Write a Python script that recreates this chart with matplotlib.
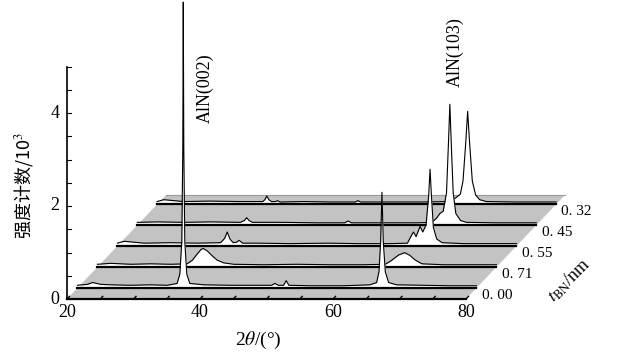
import numpy as np
import matplotlib.pyplot as plt

plt.rcParams['mathtext.fontset'] = 'stix'

# film thickness labels, front to back
thickness = ['0. 00', '0. 71', '0. 55', '0. 45', '0. 32']

# 2theta (deg) / intensity (10^3 counts)
t000_x = [20.0, 21.5, 22.3, 23.5, 25.0, 28.0, 31.0, 33.5, 35.0, 35.4, 35.7, 35.85, 35.92, 36.0, 36.15, 36.45, 36.9, 39.0, 43.0, 47.0,
          49.2, 49.7, 50.2, 51.0, 51.4, 51.8, 55.0, 60.0, 64.0, 65.0, 65.35, 65.6, 65.8, 66.0, 66.3, 66.8, 68.0, 72.0, 76.0, 80.0]
t000_y = [0.06, 0.08, 0.12, 0.08, 0.07, 0.06, 0.07, 0.06, 0.1, 0.3, 1.0, 3.0, 6.15, 3.0, 1.0, 0.3, 0.1, 0.07, 0.06, 0.06,
          0.06, 0.1, 0.06, 0.06, 0.16, 0.06, 0.05, 0.05, 0.07, 0.12, 0.35, 1.0, 2.06, 1.0, 0.35, 0.12, 0.07, 0.06, 0.05, 0.05]

t071_x = [20.0, 22.0, 25.0, 28.0, 31.0, 33.5, 34.3, 35.0, 35.6, 35.9, 36.5, 37.2, 38.0, 39.0, 40.5,
          45.0, 50.0, 55.0, 60.0, 63.3, 64.2, 65.3, 66.2, 67.0, 67.8, 68.8, 72.0, 76.0, 80.0]
t071_y = [0.06, 0.08, 0.06, 0.07, 0.06, 0.07, 0.15, 0.28, 0.38, 0.40, 0.35, 0.25, 0.15, 0.09, 0.06,
          0.05, 0.06, 0.05, 0.05, 0.06, 0.14, 0.26, 0.31, 0.25, 0.15, 0.07, 0.05, 0.05, 0.05]

t055_x = [20.0, 21.0, 24.0, 28.0, 32.0, 35.5, 36.1, 36.5, 36.9, 37.4, 37.9, 38.3, 38.8, 41.0, 46.0, 51.7, 56.0,
          61.0, 63.6, 64.1, 64.5, 64.9, 65.5, 65.9, 66.4, 66.8, 67.0, 67.2, 67.5, 68.0, 68.8, 72.0, 76.0, 80.0]
t055_y = [0.06, 0.1, 0.06, 0.07, 0.06, 0.07, 0.16, 0.30, 0.15, 0.07, 0.08, 0.12, 0.06, 0.06, 0.05, 0.06, 0.05,
          0.05, 0.06, 0.2, 0.30, 0.2, 0.42, 0.3, 0.45, 1.1, 1.65, 1.1, 0.4, 0.15, 0.07, 0.05, 0.05, 0.05]

t045_x = [20.0, 23.0, 27.0, 31.0, 35.5, 36.1, 36.45, 36.8, 37.3, 42.0, 47.0, 51.2, 51.7, 52.2, 57.0,
          62.0, 64.3, 65.0, 65.5, 66.0, 66.5, 66.8, 67.0, 67.2, 67.5, 67.9, 68.6, 69.5, 74.0, 80.0]
t045_y = [0.06, 0.07, 0.06, 0.07, 0.06, 0.1, 0.16, 0.1, 0.06, 0.06, 0.05, 0.05, 0.09, 0.05, 0.05,
          0.05, 0.06, 0.15, 0.25, 0.3, 0.7, 1.8, 2.6, 1.8, 0.7, 0.25, 0.1, 0.06, 0.05, 0.05]

t032_x = [20.0, 21.0, 24.0, 28.0, 32.0, 35.9, 36.2, 36.5, 36.8, 37.2, 37.8, 38.1, 38.5, 42.0, 46.0, 49.8, 50.2,
          50.6, 55.0, 60.0, 63.8, 64.5, 65.0, 65.6, 66.0, 66.4, 66.7, 67.0, 67.4, 67.9, 68.5, 69.5, 74.0, 80.0]
t032_y = [0.06, 0.1, 0.06, 0.07, 0.06, 0.06, 0.1, 0.18, 0.1, 0.06, 0.06, 0.08, 0.05, 0.06, 0.05, 0.05, 0.08,
          0.05, 0.05, 0.05, 0.06, 0.1, 0.15, 0.22, 0.5, 1.3, 2.0, 1.3, 0.5, 0.2, 0.1, 0.06, 0.05, 0.05]

traces = [(t000_x, t000_y), (t071_x, t071_y), (t055_x, t055_y), (t045_x, t045_y), (t032_x, t032_y)]

# fake 3d: every trace is shifted along the floor diagonal
DX, DY = 14.89, 2.237          # full depth of the floor in data units
depth = [0.105, 0.307, 0.51, 0.71, 0.91]
serif = 'Liberation Serif'

fig = plt.figure(figsize=(6.18, 3.52), dpi=100)
ax = fig.add_axes([0, 0, 1, 1])
ax.set_xlim(9.925, 9.925 + 618 / 6.65)
ax.set_ylim(-53 / 46.5, 299 / 46.5)
ax.axis('off')

# grey floor
ax.fill([20, 80, 80 + DX, 20 + DX], [0, 0, DY, DY], color='#c3c3c3', lw=0, zorder=1)
ax.plot([20 + DX, 80 + DX], [DY, DY], color='#9a9a9a', lw=0.8, zorder=1)

# back to front so the front peaks hide the ones behind
for i in range(len(traces) - 1, -1, -1):
    tx, ty = traces[i]
    ox, oy = depth[i] * DX, depth[i] * DY
    x = np.array(tx) + ox
    y = np.array(ty) + oy
    z = 2 + (5 - i)
    ax.fill_between(x, oy, y, color='white', lw=0, zorder=z)
    ax.plot([20 + ox, 80 + ox], [oy, oy], color='black', lw=1.6, zorder=z)
    ax.plot(x, y, color='black', lw=0.8, zorder=z)
    ax.text(80 + ox + 0.8, oy - 0.16, thickness[i], fontsize=11, family=serif,
            ha='left', va='center')

# front edge with small slanted ticks
ax.plot([20, 80], [0, 0], color='black', lw=1.6, zorder=10)
for t in range(20, 81, 5):
    ax.plot([t, t + 0.025 * DX], [0, 0.025 * DY], color='black', lw=1, zorder=10)
for t in [20, 40, 60, 80]:
    ax.text(t, -0.3, str(t), fontsize=13, family=serif, ha='center', va='center')

# vertical axis
ax.plot([20, 20], [0, 5], color='black', lw=1.2, zorder=10)
for v in np.arange(0, 5.01, 0.5):
    ax.plot([20, 20.6], [v, v], color='black', lw=0.8, zorder=10)
for v in [0, 2, 4]:
    ax.text(18.9, v, str(v), fontsize=13, family=serif, ha='right', va='center')

ax.text(13.4, 2.45, '强度计数/10$^3$', rotation=90, fontsize=13,
        family=['Noto Sans CJK SC', 'DejaVu Sans'], ha='center', va='center')
ax.text(48.7, -0.9, r'2$\theta$/(°)', fontsize=14, family=serif, ha='center', va='center')
ax.text(95.4, 0.4, r'$t_{\rm BN}$/nm', rotation=45, fontsize=13, family=serif,
        ha='center', va='center')

ax.text(40.75, 4.54, 'AlN(002)', rotation=90, fontsize=13, family=serif, ha='center', va='center')
ax.text(78.35, 5.31, 'AlN(103)', rotation=90, fontsize=13, family=serif, ha='center', va='center')

fig.savefig('out.png', dpi=100)
